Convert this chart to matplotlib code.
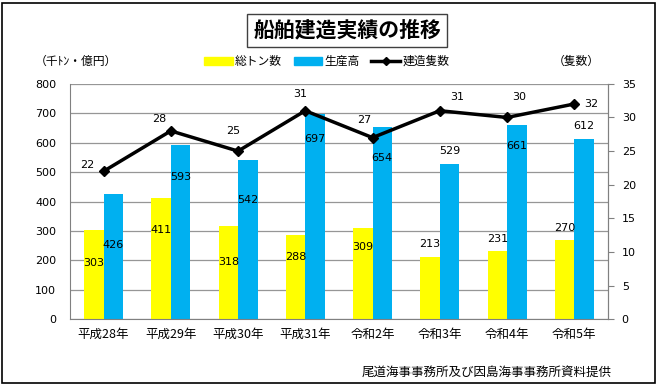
import matplotlib
matplotlib.use("Agg")
import matplotlib.pyplot as plt
from matplotlib.lines import Line2D
from matplotlib.patches import Patch, Rectangle
import numpy as np

plt.rcParams['font.family'] = ['DejaVu Sans', 'Noto Sans CJK JP']
JP = ['Noto Sans CJK JP', 'DejaVu Sans']

categories = ['平成28年', '平成29年', '平成30年', '平成31年', '令和2年', '令和3年', '令和4年', '令和5年']
gross_tons = [303, 411, 318, 288, 309, 213, 231, 270]
production = [426, 593, 542, 697, 654, 529, 661, 612]
ships = [22, 28, 25, 31, 27, 31, 30, 32]

# label offsets (points) relative to value top
ton_off = [-24, -23, -26, -16.5, -13.5, 9, 8.7, 8.6]
prod_off = [-37, -23.5, -28.8, -18, -22.4, 8.8, -15.5, 9.2]
ship_off = [(-11.5, 4.8), (-8.6, 8.6), (-3.6, 14.2), (-3.6, 12.4), (-5.8, 13),
            (12.2, 9.7), (8.6, 14.5), (12.2, 0)]

fig = plt.figure(figsize=(6.6, 3.88), dpi=100)
ax = fig.add_axes([0.106, 0.177, 0.815, 0.607])
ax2 = ax.twinx()

x = np.arange(len(categories))
w = 0.29
ax.bar(x - w/2, gross_tons, w, color='#FFFF00', zorder=2)
ax.bar(x + w/2, production, w, color='#00B0F0', zorder=2)

ax.set_ylim(0, 800)
ax.set_yticks(range(0, 801, 100))
ax.set_xlim(-0.5, len(categories) - 0.5)
ax.set_xticks(x)
ax.set_xticklabels(categories, fontfamily=JP, fontsize=9)
ax.grid(axis='y', color='#969696', lw=0.9, zorder=0)
ax.set_axisbelow(True)
ax.tick_params(axis='y', length=0, labelsize=8, pad=10)
ax.tick_params(axis='x', length=0, pad=6)
ax.spines['top'].set_visible(False)
for s in ['left', 'bottom', 'right']:
    ax.spines[s].set_color('#808080')

ax2.plot(x, ships, color='black', lw=2.5, marker='D', ms=5, zorder=5)
ax2.set_ylim(0, 35)
ax2.set_yticks(range(0, 36, 5))
ax2.tick_params(axis='y', length=4, color='#808080', labelsize=8, pad=6)
ax2.spines['top'].set_visible(False)
ax2.spines['right'].set_color('#808080')
ax2.spines['left'].set_visible(False)
ax2.spines['bottom'].set_visible(False)

for i, v in enumerate(gross_tons):
    ax.annotate(str(v), (x[i] - w/2, v), xytext=(0, ton_off[i]), textcoords='offset points',
                ha='center', va='center', fontsize=8, zorder=6)
for i, v in enumerate(production):
    ax.annotate(str(v), (x[i] + w/2, v), xytext=(0, prod_off[i]), textcoords='offset points',
                ha='center', va='center', fontsize=8, zorder=6)
for i, v in enumerate(ships):
    ax2.annotate(str(v), (x[i], v), xytext=ship_off[i], textcoords='offset points',
                 ha='center', va='center', fontsize=8, zorder=6)

# title
fig.text(0.526, 0.922, '船舶建造実績の推移', ha='center', va='center', fontsize=15,
         fontweight='bold', fontfamily=JP,
         bbox=dict(boxstyle='square,pad=0.3', fc='white', ec='#404040', lw=1))

fig.text(0.052, 0.842, '（千ﾄﾝ・億円）', ha='left', va='center', fontsize=8.5, fontfamily=JP)
fig.text(0.908, 0.842, '（隻数）', ha='right', va='center', fontsize=8.5, fontfamily=JP)

handles = [Patch(color='#FFFF00'), Patch(color='#00B0F0'),
           Line2D([0], [0], color='black', lw=2.5, marker='D', ms=4)]
labels = ['総トン数', '生産高', '建造隻数']
leg = fig.legend(handles, labels, loc='center', bbox_to_anchor=(0.495, 0.842), ncol=3,
                 frameon=False, prop={'family': JP, 'size': 8.5},
                 handlelength=2.4, handleheight=0.7, handletextpad=0.2, columnspacing=1.0)

fig.text(0.927, 0.041, '尾道海事事務所及び因島海事事務所資料提供', ha='right', va='center',
         fontsize=9, fontfamily=JP)

fig.patches.append(Rectangle((0.003, 0.013), 0.99, 0.98, transform=fig.transFigure,
                             fill=False, ec='black', lw=1.2))

fig.savefig('out.png', dpi=100)
